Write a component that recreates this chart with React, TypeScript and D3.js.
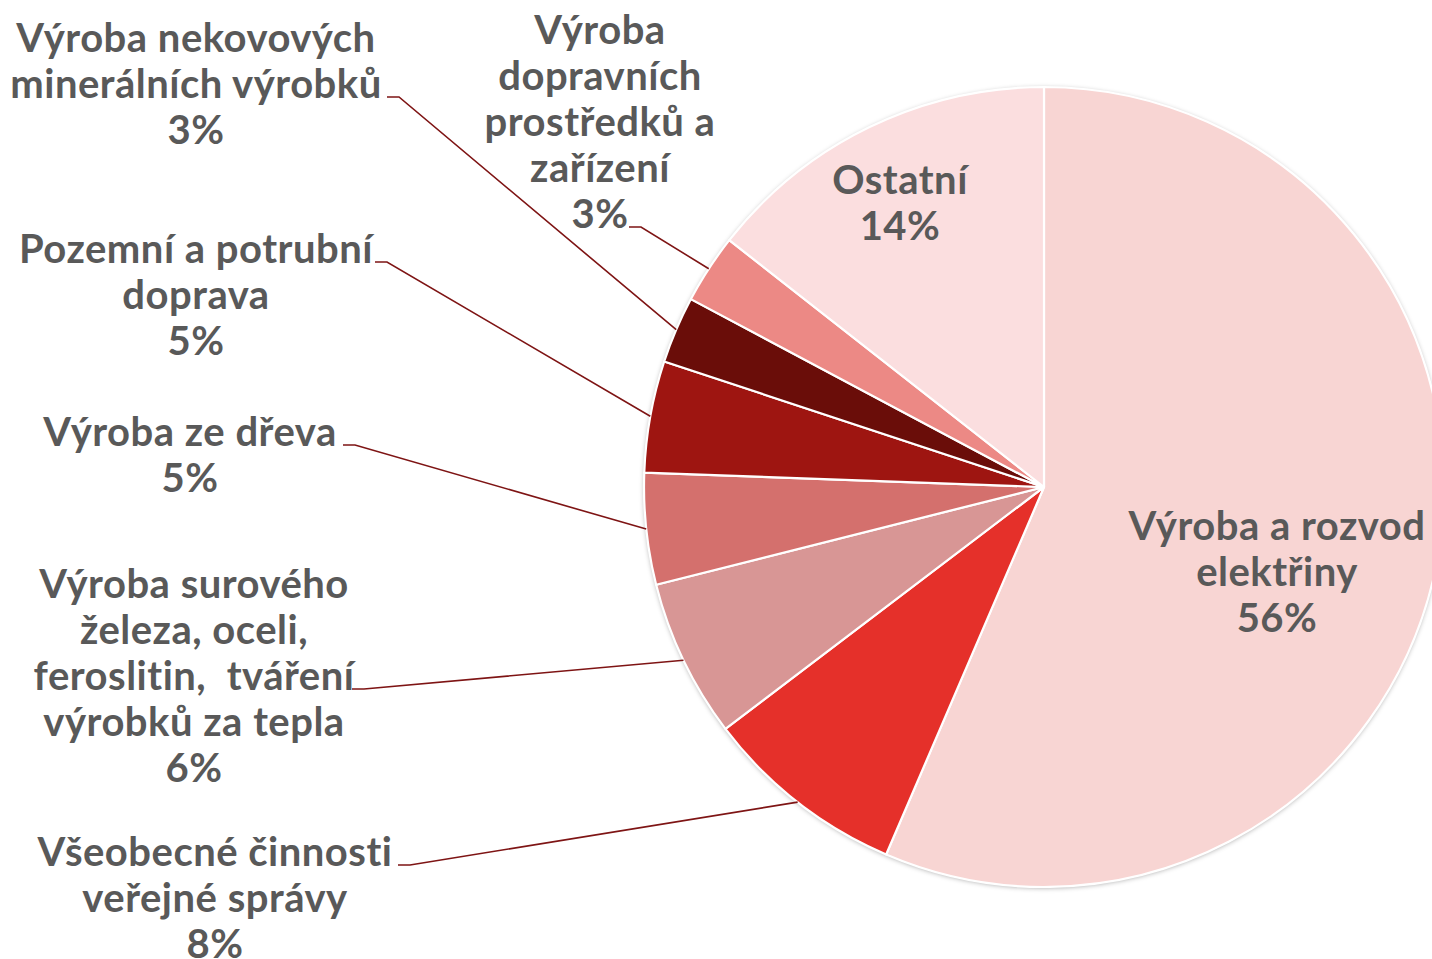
import React from "react";
import * as d3 from "d3";

const categories = [
  "Výroba a rozvod elektřiny",
  "Všeobecné činnosti veřejné správy",
  "Výroba surového železa, oceli, feroslitin,  tváření výrobků za tepla",
  "Výroba ze dřeva",
  "Pozemní a potrubní doprava",
  "Výroba nekovových minerálních výrobků",
  "Výroba dopravních prostředků a zařízení",
  "Ostatní",
];
const labelLines = [
  ["Výroba a rozvod", "elektřiny"],
  ["Všeobecné činnosti", "veřejné správy"],
  ["Výroba surového", "železa, oceli,", "feroslitin,  tváření", "výrobků za tepla"],
  ["Výroba ze dřeva"],
  ["Pozemní a potrubní", "doprava"],
  ["Výroba nekovových", "minerálních výrobků"],
  ["Výroba", "dopravních", "prostředků a", "zařízení"],
  ["Ostatní"],
];
const values = [56.4, 8.2, 6.4, 4.5, 4.5, 2.7, 2.8, 14.4];
const colors = ["#F8D5D3", "#E5302A", "#D89695", "#D4706D", "#9E1511", "#6A0D09", "#EC8985", "#FBDEDF"];

// label layout: centre x, first baseline, leader hook (line index, start x)
const layout = [
  { x: 1277, y: 540, hookLine: -1, hookX: 0 },
  { x: 215, y: 866, hookLine: 0, hookX: 398 },
  { x: 194, y: 598, hookLine: 2, hookX: 352 },
  { x: 190, y: 446, hookLine: 0, hookX: 343 },
  { x: 196, y: 263, hookLine: 0, hookX: 375 },
  { x: 196, y: 52, hookLine: 1, hookX: 387 },
  { x: 600, y: 44, hookLine: 4, hookX: 629 },
  { x: 900, y: 194, hookLine: -1, hookX: 0 },
];

const W = 1432;
const H = 959;
const CX = 1044;
const CY = 487;
const R = 400;
const LINE_H = 46;
const FONT = "Lato, 'DejaVu Sans', sans-serif";

export default function App() {
  const total = d3.sum(values);
  const pie = d3.pie<number>().sort(null).value((d) => d).startAngle(0).endAngle(2 * Math.PI);
  const arcs = pie(values);
  const arc = d3.arc<d3.PieArcDatum<number>>().innerRadius(0).outerRadius(R);

  return (
    <svg width={W} height={H} style={{ position: "absolute", left: 0, top: 0, background: "#fff" }}>
      <defs>
        <filter id="shadow" x="-10%" y="-10%" width="120%" height="120%">
          <feDropShadow dx="0" dy="1" stdDeviation="2.5" floodColor="#000" floodOpacity="0.35" />
        </filter>
      </defs>
      <g transform={`translate(${CX},${CY})`}>
        <circle r={R} fill="#fff" filter="url(#shadow)" />
        {arcs.map((a, i) => (
          <path key={categories[i]} d={arc(a) || ""} fill={colors[i]} stroke="#fff" strokeWidth={2.2} strokeLinejoin="round" />
        ))}
      </g>
      {arcs.map((a, i) => {
        const L = layout[i];
        if (L.hookLine < 0) return null;
        const mid = (a.startAngle + a.endAngle) / 2;
        const ex = CX + R * Math.sin(mid);
        const ey = CY - R * Math.cos(mid);
        const hy = L.y + L.hookLine * LINE_H - 1;
        return (
          <path
            key={"l" + i}
            d={`M${L.hookX},${hy}L${L.hookX + 12},${hy}L${ex},${ey}`}
            fill="none"
            stroke="#7E1414"
            strokeWidth={1.6}
          />
        );
      })}
      {arcs.map((a, i) => {
        const L = layout[i];
        const lines = [...labelLines[i], `${Math.round((values[i] / total) * 100)}%`];
        return (
          <text
            key={"t" + i}
            x={L.x}
            y={L.y}
            textAnchor="middle"
            fontFamily={FONT}
            fontWeight="bold"
            fontSize={40}
            letterSpacing={0.5}
            fill="#595959"
          >
            {lines.map((ln, j) => (
              <tspan key={j} x={L.x} y={L.y + j * LINE_H} style={{ whiteSpace: "pre" }}>
                {ln}
              </tspan>
            ))}
          </text>
        );
      })}
    </svg>
  );
}
